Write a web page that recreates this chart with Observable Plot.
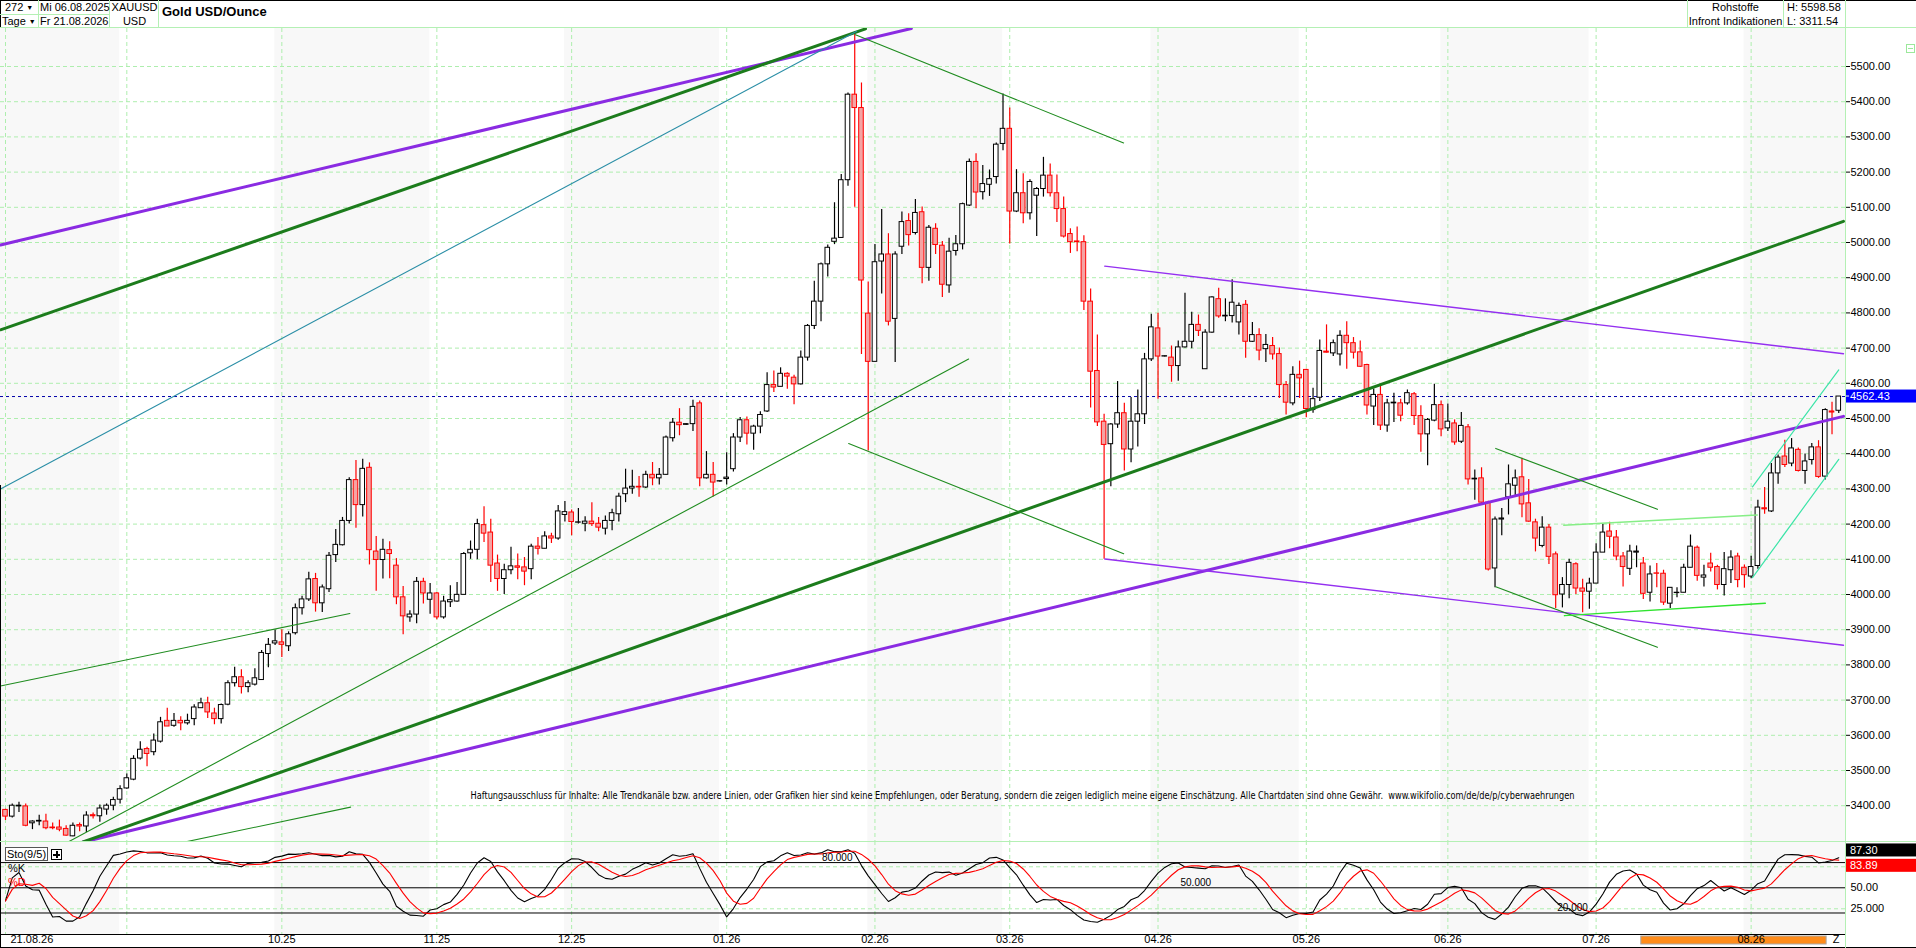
<!DOCTYPE html>
<html lang="de">
<head>
<meta charset="utf-8">
<title>Gold USD/Ounce</title>
<script src="https://cdn.jsdelivr.net/npm/d3@7"></script>
<script src="https://cdn.jsdelivr.net/npm/@observablehq/plot@0.6"></script>
<style>
  html, body { margin:0; padding:0; background:#fff; }
  #wrap { position:relative; width:1916px; height:948px; overflow:hidden; background:#fff;
          font-family:"Liberation Sans", Arial, sans-serif; font-size:11px; color:#000; }
  .t { position:absolute; white-space:nowrap; line-height:13px; }
  .ln { position:absolute; background:#b4f0b4; }
  .blk { position:absolute; background:#000; }
  #main { position:absolute; left:0; top:28px; }
  #sto { position:absolute; left:0; top:841px; }
  .tri { font-size:7px; position:relative; top:-1px; margin-left:3px; }
</style>
</head>
<body>
<div id="wrap">
  <div id="main"></div>
  <div id="sto"></div>

  <!-- header frame -->
  <div class="blk" style="left:0;top:0;width:1916px;height:1px"></div>
  <div class="blk" style="left:0;top:0;width:1px;height:28px"></div>
  <div class="blk" style="left:0;top:485px;width:1px;height:463px"></div>
  <div class="blk" style="left:0;top:947px;width:1916px;height:1px"></div>
  <div class="ln" style="left:0;top:27px;width:1916px;height:1px"></div>
  <div class="ln" style="left:0;top:14px;width:109px;height:1px"></div>
  <div class="ln" style="left:38px;top:0;width:1px;height:27px"></div>
  <div class="ln" style="left:109px;top:0;width:1px;height:27px"></div>
  <div class="ln" style="left:158px;top:0;width:1px;height:27px"></div>
  <div class="ln" style="left:1687px;top:0;width:1px;height:27px"></div>
  <div class="ln" style="left:1783px;top:0;width:1px;height:27px"></div>
  <div class="ln" style="left:1845px;top:0;width:1px;height:948px"></div>
  <div class="ln" style="left:0;top:841px;width:1916px;height:1px"></div>

  <div class="t" style="left:5px;top:1px">272<span class="tri">&#9660;</span></div>
  <div class="t" style="left:2px;top:15px">Tage<span class="tri">&#9660;</span></div>
  <div class="t" style="left:40px;top:1px">Mi 06.08.2025</div>
  <div class="t" style="left:40px;top:15px">Fr 21.08.2026</div>
  <div class="t" style="left:111px;top:1px;width:47px;text-align:center">XAUUSD</div>
  <div class="t" style="left:111px;top:15px;width:47px;text-align:center">USD</div>
  <div class="t" style="left:162px;top:4px;font-size:13px;font-weight:bold;line-height:15px">Gold USD/Ounce</div>
  <div class="t" style="left:1688px;top:1px;width:95px;text-align:center">Rohstoffe</div>
  <div class="t" style="left:1688px;top:15px;width:95px;text-align:center">Infront Indikationen</div>
  <div class="t" style="left:1787px;top:1px">H: 5598.58</div>
  <div class="t" style="left:1787px;top:15px">L: 3311.54</div>
  <div style="position:absolute;left:1906px;top:44px;width:7px;height:7px;border:1px solid #9be89b;"><div style="position:absolute;left:1px;top:3px;width:5px;height:1px;background:#9be89b"></div></div>

  <!-- stochastic panel legend -->
  <div class="t" style="left:5px;top:847px;width:41px;height:12px;line-height:12px;border:1px solid #555;background:#fff;text-align:center">Sto(9/5)</div>
  <div style="position:absolute;left:51px;top:849px;width:9px;height:9px;border:1px solid #000;background:#fff;">
    <div style="position:absolute;left:1px;top:4px;width:7px;height:2px;background:#000"></div>
    <div style="position:absolute;left:3.5px;top:1px;width:2px;height:7px;background:#000"></div>
  </div>
  <div class="t" style="left:8px;top:862px">%K</div>
  <div class="t" style="left:8px;top:876px;color:#f00">%D</div>
</div>

<script>
// ---------- data (daily candles, 06.08.2025 ... 21.08.2026) ----------
const opens = [
3388,3369,3398,3398,3350,3355,3355,3338,3338,3334,
3313,3345,3341,3373,3370,3389,3400,3417,3449,3474,
3534,3561,3552,3582,3641,3627,3641,3634,3646,3677,
3691,3662,3646,3687,3748,3765,3737,3744,3757,3831,
3861,3864,3853,3890,3961,3986,4044,3975,4015,4112,
4140,4209,4325,4254,4360,4122,4098,4126,4082,3992,
3935,3943,4036,3985,4003,3935,3978,3980,3999,4117,
4127,4197,4176,4088,4044,4069,4080,4077,4072,4136,
4130,4165,4159,4226,4233,4204,4201,4207,4201,4187,
4209,4228,4285,4301,4306,4304,4340,4330,4340,4444,
4488,4482,4484,4543,4330,4340,4321,4328,4356,4446,
4495,4457,4477,4520,4595,4590,4627,4616,4597,4673,
4763,4832,4938,5002,5013,5177,5420,5382,4798,4661,
4946,4966,4783,4988,5061,5027,5086,4928,5039,4991,
4878,4976,4995,5105,5229,5143,5164,5186,5280,5323,
5088,5140,5083,5133,5152,5190,5140,5095,5024,5003,
5001,4832,4635,4491,4427,4483,4515,4412,4491,4512,
4668,4756,4676,4673,4649,4702,4718,4766,4640,4744,
4839,4790,4791,4773,4823,4718,4737,4697,4706,4683,
4595,4543,4624,4638,4524,4559,4690,4685,4682,4735,
4714,4688,4652,4534,4567,4480,4543,4543,4543,4569,
4507,4455,4494,4538,4472,4486,4434,4475,4327,4330,
4261,4074,4213,4276,4309,4333,4259,4205,4138,4190,
4114,4000,4027,4086,4017,4008,4031,4119,4179,4162,
4108,4073,4119,4088,4005,4060,4059,3974,4004,4005,
4076,4133,4048,4088,4078,4027,4069,4108,4076,4051,
4081,4245,4236,4344,4392,4372,4411,4351,4382,4418,
4335,4520,4522];
const highs = [
3390,3405,3410,3405,3357,3373,3376,3351,3359,3343,
3351,3351,3383,3379,3402,3405,3424,3457,3490,3542,
3582,3566,3604,3651,3677,3662,3653,3660,3687,3705,
3708,3677,3689,3755,3793,3786,3755,3789,3841,3875,
3899,3900,3894,3973,3995,4063,4060,4027,4119,4185,
4219,4332,4381,4384,4374,4165,4157,4150,4102,4023,
3954,4048,4046,4031,4006,3995,4025,4034,4119,4152,
4214,4249,4214,4112,4086,4134,4115,4105,4143,4162,
4178,4174,4253,4264,4240,4244,4221,4261,4219,4223,
4242,4288,4356,4353,4335,4350,4375,4358,4450,4500,
4528,4486,4552,4550,4406,4375,4323,4403,4457,4503,
4504,4481,4519,4630,4635,4644,4630,4623,4692,4767,
4890,4942,4993,5113,5193,5425,5598.58,5453,4888,4994,
5094,5025,4974,5087,5082,5122,5101,5048,5053,5003,
5012,5020,5112,5237,5252,5219,5206,5283,5422,5382,
5207,5195,5178,5156,5242,5223,5192,5129,5039,5044,
5019,4868,4737,4512,4486,4605,4543,4560,4581,4685,
4796,4799,4678,4706,4720,4856,4802,4794,4752,4846,
4870,4840,4894,4828,4835,4773,4755,4739,4730,4700,
4605,4647,4663,4640,4586,4723,4766,4723,4749,4775,
4730,4720,4654,4584,4591,4555,4572,4555,4581,4574,
4536,4500,4597,4550,4541,4496,4517,4483,4354,4360,
4265,4220,4244,4368,4354,4387,4327,4214,4221,4199,
4121,4048,4100,4090,4043,4046,4144,4199,4205,4182,
4119,4140,4138,4105,4081,4088,4069,4019,4019,4086,
4169,4138,4083,4117,4083,4119,4124,4117,4084,4109,
4268,4304,4372,4396,4438,4443,4416,4399,4429,4437,
4528,4546,4562.43];
const lows = [
3358,3365,3381,3340,3332,3343,3332,3332,3326,3313,
3311.54,3326,3324,3362,3353,3373,3386,3405,3447,3471,
3530,3511,3542,3578,3625,3623,3613,3629,3627,3676,
3648,3630,3632,3684,3737,3717,3721,3740,3757,3792,
3855,3821,3838,3885,3942,3980,3950,3949,4006,4091,
4138,4200,4188,4220,4084,4009,4044,4045,3971,3886,
3921,3917,3973,3944,3928,3930,3963,3978,3999,4100,
4099,4148,4034,4009,4000,4056,4042,4025,4042,4112,
4130,4145,4154,4206,4167,4200,4178,4193,4178,4169,
4181,4206,4261,4285,4276,4301,4309,4311,4339,4433,
4451,4480,4463,4306,4328,4277,4319,4311,4348,4432,
4425,4410,4457,4517,4574,4590,4583,4539,4595,4663,
4753,4775,4902,4994,5013,5160,5100,4682,4408,4661,
4854,4763,4659,4966,4990,5021,4883,4890,4966,4844,
4856,4962,4979,5102,5096,5121,5131,5166,5261,4996,
5085,5053,5064,5017,5129,5129,5057,5013,4969,4974,
4807,4530,4477,4100,4306,4472,4351,4374,4419,4483,
4662,4555,4675,4603,4606,4700,4698,4733,4640,4742,
4785,4775,4771,4737,4671,4716,4664,4659,4666,4557,
4510,4536,4557,4502,4515,4548,4686,4676,4649,4640,
4669,4645,4510,4480,4466,4461,4489,4491,4538,4480,
4404,4366,4491,4448,4463,4424,4429,4311,4268,4259,
4067,4019,4167,4226,4281,4218,4205,4121,4133,4085,
3960,3962,3988,4000,3948,3958,4031,4119,4130,4096,
4021,4054,4076,3986,3979,4019,3969,3960,3991,4005,
4076,4038,4021,4064,4013,3996,4031,4019,4018,4045,
4072,4228,4233,4313,4361,4363,4348,4313,4368,4330,
4325,4454,4514];
const closes = [
3369,3400,3400,3343,3355,3357,3336,3336,3332,3315,
3343,3341,3372,3370,3392,3400,3416,3447,3478,3533,
3559,3547,3585,3637,3625,3641,3634,3641,3679,3691,
3665,3646,3686,3748,3765,3737,3748,3762,3834,3857,
3867,3857,3887,3961,3986,4043,3975,4020,4110,4141,
4209,4325,4254,4357,4126,4098,4127,4115,3992,3938,
3943,4036,4003,4003,3935,3980,3984,3999,4115,4127,
4200,4173,4082,4044,4069,4080,4076,4065,4136,4130,
4165,4159,4236,4234,4206,4205,4207,4200,4190,4209,
4231,4278,4301,4306,4304,4340,4330,4340,4446,4488,
4481,4484,4533,4330,4340,4318,4322,4332,4446,4495,
4457,4477,4510,4595,4588,4627,4619,4597,4673,4763,
4832,4938,4985,5011,5177,5420,5382,4892,4661,4944,
4966,4775,4966,5058,5021,5084,4928,5042,4993,4880,
4974,4995,5109,5229,5142,5166,5180,5278,5323,5088,
5140,5083,5172,5152,5190,5140,5095,5017,5001,5001,
4832,4633,4489,4425,4483,4515,4412,4491,4512,4668,
4759,4676,4677,4649,4702,4718,4766,4749,4744,4844,
4790,4792,4829,4820,4718,4737,4693,4709,4682,4595,
4545,4624,4614,4527,4555,4692,4687,4714,4735,4714,
4687,4647,4537,4567,4480,4543,4545,4508,4572,4507,
4455,4496,4538,4469,4491,4432,4479,4327,4329,4261,
4071,4213,4216,4313,4330,4256,4207,4159,4190,4107,
3998,4027,4090,4017,4008,4031,4119,4176,4164,4108,
4078,4122,4122,4002,4057,4059,3977,4019,4005,4076,
4136,4053,4054,4076,4027,4072,4105,4041,4055,4078,
4247,4242,4344,4389,4368,4415,4351,4378,4418,4334,
4524,4517,4562.43];

// bar index of the first bar of each month (grid lines); labels shown under the lower panel
const monthStarts = [18, 41, 64, 84, 107, 129, 149, 171, 193, 214, 236, 259];
const monthLabelIdx = [41, 64, 84, 107, 129, 149, 171, 193, 214, 236, 259];
const monthLabels = ["10.25","11.25","12.25","01.26","02.26","03.26","04.26","05.26","06.26","07.26","08.26"];
const startLabel = "21.08.26";
const yTicks = [3400,3500,3600,3700,3800,3900,4000,4100,4200,4300,4400,4500,4600,4700,4800,4900,5000,5100,5200,5300,5400,5500];
const lastPrice = 4562.43;
const lastPriceLabel = "4562.43";

// trend lines drawn on the chart: [name, barIndex1, price1, barIndex2, price2]
const trendLines = [
  ["A", -0.74, 4993, 134.4, 5608],
  ["B", 11.4, 3296, 272.7, 4506],
  ["C", -0.74, 4752, 127.6, 5607],
  ["D", 11.5, 3297, 272.7, 5060],
  ["E", -0.74, 4300, 126.3, 5600],
  ["F", 9.2, 3296, 142.9, 4669],
  ["G", 26.4, 3296, 51.2, 3396],
  ["H", -0.74, 3740, 51.1, 3946],
  ["I", 126.1, 5590, 165.9, 5283],
  ["J", 125.1, 4429, 165.9, 4116],
  ["K", 163.1, 4933, 272.7, 4684],
  ["L", 163.1, 4101, 272.7, 3856],
  ["M", 221.1, 4415, 245.1, 4242],
  ["N", 221.1, 4022, 245.1, 3850],
  ["O", 231.2, 4197, 259.9, 4226],
  ["P", 231.3, 3940, 261.1, 3975],
  ["Q", 259.2, 4306, 272.0, 4638],
  ["R", 259.2, 4048, 272.0, 4384]
];

// stochastic panel
const stoLevels = [80, 50, 20];
const stoLevelLabels = ["80.000", "50.000", "20.000"];
const stoLevelLabelIdx = [123.4, 176.6, 232.5];
const stoDashed = [75, 25];
const stoAxisVals = [50, 25];
const stoAxisLabels = ["50.00", "25.000"];
const stoLastK = 87.30, stoLastD = 83.89;

const disclaimer = "Haftungsausschluss für Inhalte: Alle Trendkanäle bzw. andere Linien, oder Grafiken hier sind keine Empfehlungen, oder Beratung, sondern die zeigen lediglich meine eigene Einschätzung. Alle Chartdaten sind ohne Gewähr.  www.wikifolio.com/de/de/p/cyberwaehrungen";

// ---------- styles ----------
const GRID = "#aeeeae";
const UP_STROKE = "#000", DN_STROKE = "#ff0000", DN_FILL = "#f5a3a3";
const SHADE = "#f8f8f8";
const trendStyle = {
  A: {stroke: "#8a2be2", w: 3}, B: {stroke: "#8a2be2", w: 3},
  C: {stroke: "#1c7c1c", w: 3}, D: {stroke: "#1c7c1c", w: 3},
  E: {stroke: "#2a8ea6", w: 1.1},
  F: {stroke: "#1f8c1f", w: 1.1}, G: {stroke: "#1f8c1f", w: 1.1}, H: {stroke: "#1f8c1f", w: 1.1},
  I: {stroke: "#1f8c1f", w: 1.1}, J: {stroke: "#1f8c1f", w: 1.1},
  K: {stroke: "#9430f0", w: 1.4}, L: {stroke: "#9430f0", w: 1.4},
  M: {stroke: "#1f8c1f", w: 1.1}, N: {stroke: "#1f8c1f", w: 1.1},
  O: {stroke: "#86ee86", w: 1.5}, P: {stroke: "#2fe32f", w: 1.5},
  Q: {stroke: "#3ce4a8", w: 1.2}, R: {stroke: "#3ce4a8", w: 1.2}
};
const FONT = "Liberation Sans, Arial, sans-serif";

// ---------- derived tables ----------
const candles = opens.map((o, i) => ({i, o, h: highs[i], l: lows[i], c: closes[i]}));
const upC = candles.filter(d => d.c >= d.o);
const dnC = candles.filter(d => d.c < d.o);

// Sto(9/5) as named in the chart, computed from the candles above
const fastK = candles.map((d, i) => {
  const w = candles.slice(Math.max(0, i - 8), i + 1);
  const hh = d3.max(w, e => e.h), ll = d3.min(w, e => e.l);
  return hh > ll ? 100 * (d.c - ll) / (hh - ll) : 50;
});
const sma = (arr, n) => arr.map((_, i) => d3.mean(arr.slice(Math.max(0, i - n + 1), i + 1)));
const kArr = sma(fastK, 5), dArr = sma(kArr, 5);
const kd = candles.map((d, i) => ({i: d.i, k: kArr[i], d: dArr[i]}));

const X0 = -0.742, X1 = 273.0;
const bounds = [X0, ...monthStarts.map(m => m - 1.05), X1];
const bands = [];
for (let b = 0; b < bounds.length - 1; b += 2) bands.push({x1: bounds[b], x2: bounds[b + 1]});

const xScale = {domain: [X0, X1], range: [0, 1845], axis: null};
const baseStyle = {background: "transparent", fontFamily: FONT, fontSize: "11px", color: "#000"};

// ---------- main price panel ----------
const main = Plot.plot({
  width: 1916, height: 813,
  marginTop: 0, marginBottom: 0, marginLeft: 0, marginRight: 71,
  style: baseStyle,
  x: xScale,
  y: {domain: [3298.3, 5608.0], range: [813, 0]},
  marks: [
    Plot.rect(bands, {x1: "x1", x2: "x2", fill: SHADE}),
    Plot.ruleY(yTicks, {stroke: GRID, strokeDasharray: "4,3"}),
    Plot.ruleX([0, ...monthStarts], {stroke: GRID, strokeDasharray: "4,3"}),
    Plot.ruleY([lastPrice], {stroke: "#0000a8", strokeDasharray: "3,3"}),
    Plot.ruleX(upC, {x: "i", y1: "l", y2: "h", stroke: UP_STROKE, strokeWidth: 1.2}),
    Plot.ruleX(dnC, {x: "i", y1: "l", y2: "h", stroke: DN_STROKE, strokeWidth: 1.2}),
    Plot.rect(upC, {x1: d => d.i - 0.34, x2: d => d.i + 0.34, y1: "o", y2: "c", fill: "#fff", stroke: UP_STROKE, strokeWidth: 1}),
    Plot.rect(dnC, {x1: d => d.i - 0.34, x2: d => d.i + 0.34, y1: "o", y2: "c", fill: DN_FILL, stroke: DN_STROKE, strokeWidth: 1}),
    ...trendLines.map(([name, i1, p1, i2, p2]) =>
      Plot.line([{i: i1, p: p1}, {i: i2, p: p2}], {x: "i", y: "p", stroke: trendStyle[name].stroke, strokeWidth: trendStyle[name].w, clip: true})),
    Plot.text([disclaimer], {text: d => d, frameAnchor: "bottom-left", dx: 470, dy: -43, textAnchor: "start",
      fontSize: 10, fontFamily: "Liberation Sans Narrow, DejaVu Sans Condensed, Liberation Sans, sans-serif", fill: "#000"}),
    Plot.axisY({anchor: "right", ticks: yTicks, tickFormat: d => d.toFixed(2), tickSize: 4, tickPadding: 1, fontSize: 11, label: null})
  ]
});
document.getElementById("main").appendChild(main);

{
  const svg = d3.select(main);
  svg.selectAll("text").filter(function () { return this.textContent.startsWith("Haftungs"); })
    .attr("textLength", 1104).attr("lengthAdjust", "spacingAndGlyphs");
  const y = main.scale("y");
  const yc = y.apply(lastPrice);
  const g = svg.append("g").attr("text-anchor", "start");
  g.append("rect").attr("x", 1845).attr("y", yc - 6.5).attr("width", 71).attr("height", 13).attr("fill", "#0000ff");
  g.append("line").attr("x1", 1845).attr("x2", 1849).attr("y1", yc).attr("y2", yc).attr("stroke", "#fff");
  g.append("text").attr("x", 1850).attr("y", yc).attr("dy", "0.35em").attr("fill", "#fff")
    .attr("text-anchor", "start").attr("font-size", 11).attr("font-family", FONT).text(lastPriceLabel);
}

// ---------- stochastic panel ----------
const sto = Plot.plot({
  width: 1916, height: 107,
  marginTop: 0, marginBottom: 14, marginLeft: 0, marginRight: 71,
  style: baseStyle,
  x: xScale,
  y: {domain: [-5.6, 105.1], range: [93, 0], axis: null},
  marks: [
    Plot.rect(bands, {x1: "x1", x2: "x2", fill: SHADE}),
    Plot.ruleX([0, ...monthStarts], {stroke: GRID, strokeDasharray: "4,3"}),
    Plot.ruleY(stoDashed, {stroke: GRID, strokeDasharray: "4,3"}),
    Plot.ruleY(stoLevels, {stroke: "#000", strokeWidth: 1}),
    Plot.line(kd, {x: "i", y: "k", stroke: "#000", strokeWidth: 1.1}),
    Plot.line(kd, {x: "i", y: "d", stroke: "#ff0000", strokeWidth: 1.1}),
    Plot.text(stoLevels, {x: (d, i) => stoLevelLabelIdx[i], y: d => d, text: (d, i) => stoLevelLabels[i], dy: -5, fontSize: 10}),
    Plot.ruleY([-5.6], {stroke: "#000", strokeWidth: 1}),
    Plot.text(monthLabelIdx, {x: d => d, text: (d, i) => monthLabels[i], frameAnchor: "bottom", dy: 8, fontSize: 11}),
    Plot.text([startLabel], {text: d => d, frameAnchor: "bottom-left", dx: 10, dy: 8, textAnchor: "start", fontSize: 11}),
    Plot.text(["Z"], {text: d => d, frameAnchor: "bottom-right", dx: -6, dy: 8, textAnchor: "end", fontSize: 11}),
    Plot.text(stoAxisVals, {y: d => d, text: (d, i) => stoAxisLabels[i], frameAnchor: "right", dx: 5, textAnchor: "start", fontSize: 11})
  ]
});
document.getElementById("sto").appendChild(sto);

{
  const svg = d3.select(sto);
  const x = sto.scale("x"), y = sto.scale("y");
  // orange period bar under the last month label
  svg.insert("rect", ":first-child")
    .attr("x", x.apply(242.7)).attr("y", 95).attr("width", x.apply(270.2) - x.apply(242.7)).attr("height", 8)
    .attr("fill", "#ff8c1a").attr("stroke", "#a8a8a8");
  svg.insert("rect", ":first-child").attr("x", 0).attr("y", 0).attr("width", 1916).attr("height", 107).attr("fill", "#fff");
  const g = svg.append("g").attr("font-family", FONT).attr("font-size", 11).attr("text-anchor", "start");
  const boxes = [[stoLastK, y.apply(stoLastK) - 6, "#000"], [stoLastD, y.apply(stoLastD) + 6.5, "#ff0000"]];
  for (const [v, yc, col] of boxes) {
    g.append("rect").attr("x", 1845).attr("y", yc - 6.5).attr("width", 71).attr("height", 13).attr("fill", col);
    g.append("text").attr("x", 1850).attr("y", yc).attr("dy", "0.35em").attr("fill", "#fff")
      .attr("text-anchor", "start").text(v.toFixed(2));
  }
}
</script>
</body>
</html>
